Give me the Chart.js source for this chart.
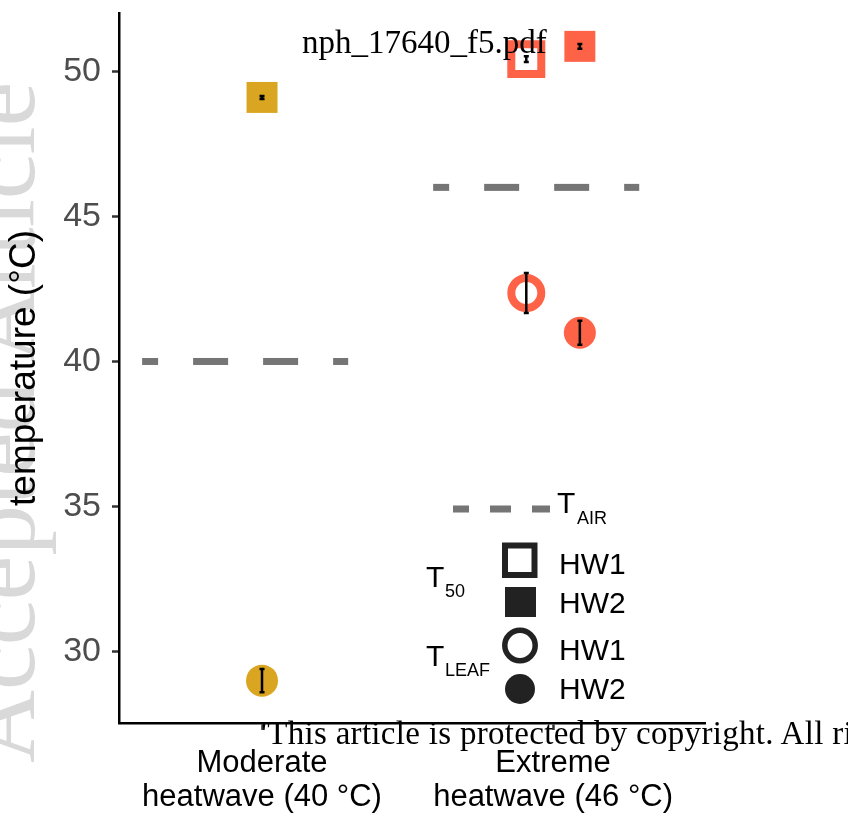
<!DOCTYPE html>
<html>
<head>
<meta charset="utf-8">
<script src="https://cdn.jsdelivr.net/npm/chart.js@4.4.0/dist/chart.umd.min.js"></script>
<style>
    html, body { margin: 0; padding: 0; background: #fff; }
    #wrap { position: relative; width: 848px; height: 820px; overflow: hidden; }
    #chart { position: absolute; left: 0; top: 0; }
    #watermark {
        position: absolute; left: 0; top: 0;
        font: 101px "Liberation Serif"; line-height: 101px;
        color: #d9d9d9; white-space: nowrap;
        transform-origin: 0 0;
        transform: translate(-49.6px, 763px) rotate(-90deg);
    }
    .pdfText {
        position: absolute; white-space: nowrap;
        font: 33px "Liberation Serif"; line-height: 33px; color: #000;
    }
    #fileName { left: 302px; top: 25.7px; }
    #copyright { left: 261px; top: 717.4px; letter-spacing: 0.3px; }
</style>
</head>
<body>
<div id="wrap">
    <div id="watermark">Accepted Article</div>
    <canvas id="chart" width="848" height="820"></canvas>
    <div id="fileName" class="pdfText">nph_17640_f5.pdf</div>
    <div id="copyright" class="pdfText">'This article is protected by copyright. All rights reserved</div>
</div>
<script>
    // categories on the x axis, one colour each
    var categories = [['Moderate', 'heatwave (40 °C)'], ['Extreme', 'heatwave (46 °C)']];
    var catColors = ['#DAA520', '#FF6347'];
    var yTicks = [30, 35, 40, 45, 50];

    // air temperature of each heatwave
    var tAir = [40, 46];

    // T50 (squares) and Tleaf (circles), mean and half error bar
    var t50Hw1 = [null, 50.42];
    var t50Hw1Err = [null, 0.10];
    var t50Hw2 = [49.10, 50.86];
    var t50Hw2Err = [0.05, 0.08];

    var tLeafHw1 = [null, 42.36];
    var tLeafHw1Err = [null, 0.69];
    var tLeafHw2 = [29.00, 40.99];
    var tLeafHw2Err = [0.40, 0.41];

    var DODGE = 0.092;
    var FONT = 'Liberation Sans';

    function pointsFor(values, errs, other, side) {
        var pts = [];
        values.forEach(function (v, i) {
            if (v === null) return;
            var shift = other[i] === null ? 0 : side * DODGE;
            pts.push({ x: i + 1 + shift, y: v, err: errs[i], color: catColors[i] });
        });
        return pts;
    }

    function rawColor(ctx) {
        return ctx.raw ? ctx.raw.color : '#000';
    }

    // dashed T_AIR segments, one dataset per category
    var airSets = tAir.map(function (v, i) {
        return {
            type: 'line',
            data: [{ x: i + 1 - 0.412, y: v }, { x: i + 1 + 0.296, y: v }],
            borderColor: '#757575',
            borderWidth: 7,
            borderDash: [35, 35],
            borderDashOffset: 19,
            borderCapStyle: 'butt',
            pointRadius: 0,
            order: 10
        };
    });

    var pointSets = [
        {
            type: 'scatter',
            data: pointsFor(t50Hw1, t50Hw1Err, t50Hw2, -1),
            pointStyle: 'rect', pointRadius: 21.2, borderWidth: 8,
            borderColor: rawColor, backgroundColor: 'rgba(0,0,0,0)',
            errorBars: true, order: 4
        },
        {
            type: 'scatter',
            data: pointsFor(t50Hw2, t50Hw2Err, t50Hw1, 1),
            pointStyle: 'rect', pointRadius: 21.9, borderWidth: 0,
            borderColor: rawColor, backgroundColor: rawColor,
            errorBars: true, order: 3
        },
        {
            type: 'scatter',
            data: pointsFor(tLeafHw1, tLeafHw1Err, tLeafHw2, -1),
            pointStyle: 'circle', pointRadius: 15, borderWidth: 8,
            borderColor: rawColor, backgroundColor: 'rgba(0,0,0,0)',
            errorBars: true, order: 2
        },
        {
            type: 'scatter',
            data: pointsFor(tLeafHw2, tLeafHw2Err, tLeafHw1, 1),
            pointStyle: 'circle', pointRadius: 16, borderWidth: 0,
            borderColor: rawColor, backgroundColor: rawColor,
            errorBars: true, order: 1
        }
    ];

    var errorBars = {
        id: 'errorBars',
        afterDatasetsDraw: function (chart) {
            var ctx = chart.ctx;
            var ys = chart.scales.y;
            ctx.save();
            ctx.strokeStyle = '#000';
            ctx.lineWidth = 2.5;
            chart.data.datasets.forEach(function (ds, di) {
                if (!ds.errorBars) return;
                chart.getDatasetMeta(di).data.forEach(function (el, j) {
                    var d = ds.data[j];
                    var top = ys.getPixelForValue(d.y + d.err);
                    var bot = ys.getPixelForValue(d.y - d.err);
                    ctx.beginPath();
                    ctx.moveTo(el.x, top); ctx.lineTo(el.x, bot);
                    ctx.moveTo(el.x - 2.5, top); ctx.lineTo(el.x + 2.5, top);
                    ctx.moveTo(el.x - 2.5, bot); ctx.lineTo(el.x + 2.5, bot);
                    ctx.stroke();
                });
            });
            ctx.restore();
        }
    };

    // legend drawn inside the plot, as in the figure
    var insideLegend = {
        id: 'insideLegend',
        afterDraw: function (chart) {
            var ctx = chart.ctx;
            ctx.save();
            ctx.strokeStyle = '#757575';
            ctx.lineWidth = 7;
            ctx.setLineDash([21, 21]);
            ctx.lineDashOffset = 5;
            ctx.beginPath();
            ctx.moveTo(453, 509); ctx.lineTo(550, 509);
            ctx.stroke();
            ctx.setLineDash([]);

            ctx.fillStyle = '#000';
            ctx.textBaseline = 'alphabetic';
            ctx.font = '30px "' + FONT + '"';
            ctx.fillText('T', 557, 513);
            ctx.fillText('T', 426, 587);
            ctx.fillText('T', 426, 666);
            ctx.fillText('HW1', 559, 574);
            ctx.fillText('HW2', 559, 613);
            ctx.fillText('HW1', 559, 660);
            ctx.fillText('HW2', 559, 699);
            ctx.font = '18px "' + FONT + '"';
            ctx.fillText('AIR', 577, 524);
            ctx.fillText('50', 445, 597);
            ctx.fillText('LEAF', 445, 676);

            ctx.strokeStyle = '#222';
            ctx.fillStyle = '#222';
            ctx.lineWidth = 6;
            ctx.strokeRect(505, 562.5 - 17, 29.5, 29.5);
            ctx.fillRect(505, 587, 31, 30);
            ctx.lineWidth = 5.5;
            ctx.beginPath();
            ctx.arc(520, 645.5, 15.2, 0, Math.PI * 2);
            ctx.stroke();
            ctx.beginPath();
            ctx.arc(520, 689, 15, 0, Math.PI * 2);
            ctx.fill();
            ctx.restore();
        }
    };

    new Chart(document.getElementById('chart'), {
        data: { datasets: airSets.concat(pointSets) },
        plugins: [errorBars, insideLegend],
        options: {
            responsive: false,
            animation: false,
            layout: { autoPadding: false, padding: { left: 0, top: 13, right: 143, bottom: 0 } },
            plugins: { legend: { display: false }, tooltip: { enabled: false } },
            elements: { point: { hoverRadius: 0 } },
            datasets: { scatter: { clip: false }, line: { clip: false } },
            scales: {
                x: {
                    type: 'linear',
                    min: 0.5086,
                    max: 2.522,
                    afterBuildTicks: function (s) {
                        s.ticks = categories.map(function (c, i) { return { value: i + 1 }; });
                    },
                    afterFit: function (s) {
                        s.height = 97;
                        s.paddingLeft = 0;
                        s.paddingRight = 0;
                    },
                    border: { color: '#000', width: 2.5 },
                    grid: { drawOnChartArea: false, tickLength: 7, tickColor: '#333', tickWidth: 2.5 },
                    ticks: {
                        autoSkip: false,
                        maxRotation: 0,
                        padding: 16,
                        color: '#000',
                        font: { family: FONT, size: 31, lineHeight: 1.11 },
                        callback: function (v, i) { return categories[i]; }
                    }
                },
                y: {
                    type: 'linear',
                    min: 27.54,
                    max: 52.01,
                    afterBuildTicks: function (s) {
                        s.ticks = yTicks.map(function (v) { return { value: v }; });
                    },
                    afterFit: function (s) {
                        s.width = 119;
                        s.paddingTop = 0;
                        s.paddingBottom = 0;
                    },
                    border: { color: '#000', width: 2.5 },
                    grid: { drawOnChartArea: false, tickLength: 7, tickColor: '#333', tickWidth: 2.5 },
                    ticks: {
                        padding: 11,
                        color: '#4d4d4d',
                        font: { family: FONT, size: 34 },
                        callback: function (v) { return String(v); }
                    },
                    title: {
                        display: true,
                        text: 'temperature (°C)',
                        color: '#000',
                        padding: { top: 3, bottom: 0 },
                        font: { family: FONT, size: 37 }
                    }
                }
            }
        }
    });
</script>
</body>
</html>
